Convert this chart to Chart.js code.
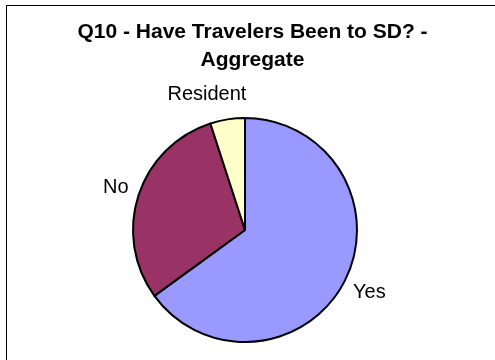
<!DOCTYPE html>
<html>
<head>
<meta charset="utf-8">
<script src="https://cdn.jsdelivr.net/npm/chart.js@4"></script>
<style>
  html, body { margin: 0; padding: 0; background: #fff; }
  #wrap { width: 495px; height: 360px; position: relative; }
</style>
</head>
<body>
<div id="wrap"><canvas id="pieChart"></canvas></div>
<script>
const titleLines = ['Q10 - Have Travelers Been to SD? -', 'Aggregate'];
const categories = ['Yes', 'No', 'Resident'];
const shares = [65, 30, 5];
const sliceColors = ['#9999FF', '#993366', '#FFFFCC'];

// frame + two-line bold title, drawn by hand so it is not squeezed
const framePlugin = {
    id: 'frame',
    beforeDraw(chart) {
        const c = chart.ctx;
        c.save();
        c.fillStyle = '#fff';
        c.fillRect(0, 0, chart.width, chart.height);
        c.strokeStyle = '#000';
        c.lineWidth = 1;
        c.strokeRect(6.5, 5.5, 700, 700);
        c.fillStyle = '#000';
        c.font = 'bold 21px "Liberation Sans", Arial, sans-serif';
        c.textAlign = 'center';
        c.textBaseline = 'middle';
        titleLines.forEach((line, i) => c.fillText(line, 252.5, 32 + i * 28));
        c.restore();
    }
};

// outside labels, placed from each arc's middle angle
const sliceLabels = {
    id: 'sliceLabels',
    afterDatasetsDraw(chart) {
        const c = chart.ctx;
        const meta = chart.getDatasetMeta(0);
        c.save();
        c.font = '20px "Liberation Sans", Arial, sans-serif';
        c.fillStyle = '#000';
        c.textAlign = 'center';
        c.textBaseline = 'middle';
        meta.data.forEach((arc, i) => {
            const mid = (arc.startAngle + arc.endAngle) / 2;
            const dx = Math.cos(mid), dy = Math.sin(mid);
            const r = arc.outerRadius + 13;
            const w = c.measureText(categories[i]).width / 2;
            const fx = Math.sign(dx) * Math.min(0.8, Math.abs(dx) * 3);
            const lx = arc.x + r * dx + fx * w;
            const ly = arc.y + r * dy + dy * 12;
            c.fillText(categories[i], lx, ly);
        });
        c.restore();
    }
};

new Chart(document.getElementById('pieChart'), {
    type: 'pie',
    data: {
        labels: categories,
        datasets: [{
            data: shares,
            backgroundColor: sliceColors,
            borderColor: '#000',
            borderWidth: 2
        }]
    },
    options: {
        responsive: true,
        maintainAspectRatio: false,
        animation: false,
        events: [],
        layout: { padding: { left: 132, right: 137, top: 117, bottom: 17 } },
        plugins: {
            legend: { display: false },
            tooltip: { enabled: false },
            title: { display: false }
        }
    },
    plugins: [framePlugin, sliceLabels]
});
</script>
</body>
</html>
